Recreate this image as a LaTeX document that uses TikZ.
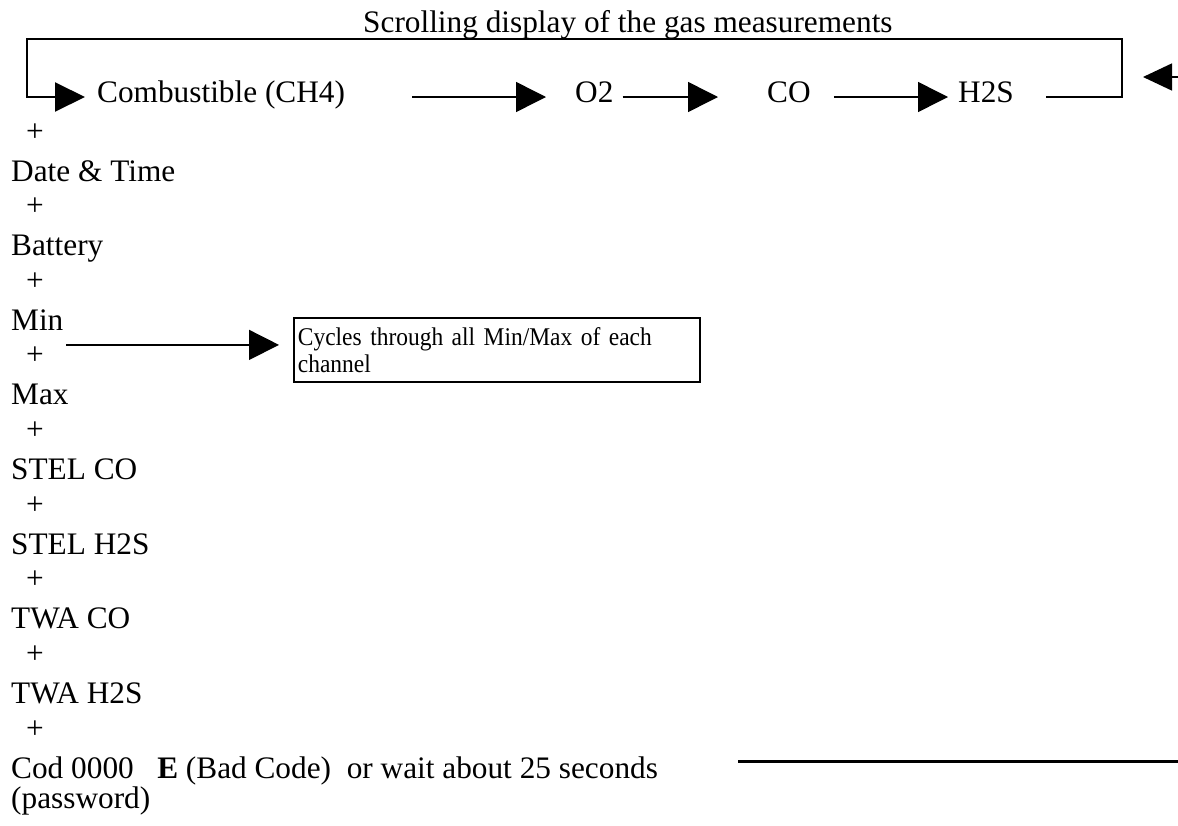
\documentclass[tikz,border=0pt]{standalone}
\usepackage{fontspec}
\setmainfont{Liberation Serif}
\newfontfamily\boxfont[FakeStretch=0.92]{Liberation Serif}
\usetikzlibrary{arrows.meta}
\begin{document}
\begin{tikzpicture}[x=1pt,y=-1pt,
  txt/.style={anchor=base west, inner sep=0pt, font=\fontsize{31.3}{37.5}\selectfont},
  arr/.style={line width=1.5pt, -{Triangle[length=30pt,width=30pt]}},
  loopline/.style={line width=2pt, line join=miter, -{Triangle[length=30pt,width=29pt]}},
  infobox/.style={draw, line width=1.8pt, anchor=north west, text width=398pt, minimum height=64pt,
    inner xsep=4pt, inner ysep=0pt, align=left, font=\boxfont\fontsize{25.5}{27}\selectfont}]
\useasboundingbox (0,0) rectangle (1178,825);

% top row
\node[txt] (title) at (363,32) {Scrolling display of the gas measurements};
\node[txt] (comb) at (97,102) {Combustible (CH4)};
\node[txt] (o2) at (575,102) {O2};
\node[txt] (co) at (767,102) {CO};
\node[txt] (h2s) at (958,102) {H2S};

\draw[arr] ([xshift=67pt,yshift=5pt]comb.base east) -- ([xshift=-29pt,yshift=5pt]o2.base west);
\draw[arr] ([xshift=9pt,yshift=5pt]o2.base east) -- ([xshift=-49pt,yshift=5pt]co.base west);
\draw[arr] ([xshift=23pt,yshift=5pt]co.base east) -- ([xshift=-10pt,yshift=5pt]h2s.base west);

\coordinate (lr) at (1122,39);
\coordinate (ll) at (27,39);
\draw[loopline] ([xshift=32pt,yshift=5pt]h2s.base east) -| (lr) -- (ll) |- ([xshift=-12pt,yshift=5pt]comb.base west);

% right edge arrow
\coordinate (rin) at (1190,77);
\coordinate (rtip) at (1143,77);
\draw[line width=1.5pt, -{Triangle[length=29pt,width=27pt]}] (rin) -- (rtip);

% left column
\foreach \lab [count=\i from 0] in {Date \& Time, Battery, Min, Max, STEL CO, STEL H2S, TWA CO, TWA H2S}{
  \node[txt] (p\i) at (26,141+74.6*\i) {+};
  \node[txt] (t\i) at (11,181+74.6*\i) {\lab};
}
\node[txt] (p8) at (26,738) {+};
\node[txt] (cod) at (11,778) {Cod 0000\ \ \ \textbf{E} (Bad Code)\ \ or wait about 25 seconds};
\node[txt] (pw) at (11,808) {(password)};

% min/max box
\node[infobox] (box) at (293,317) {Cycles through all Min/Max of each\\channel};
\coordinate (bw) at ([yshift=5pt]box.west);
\coordinate (ms) at ([xshift=55pt]t2.base west);
\draw[arr, shorten >=14pt] (ms |- bw) -- (bw);

% bottom line
\coordinate (bl) at (738,761);
\coordinate (br) at (1178,761);
\draw[line width=3pt] (bl) -- (br);
\end{tikzpicture}
\end{document}
